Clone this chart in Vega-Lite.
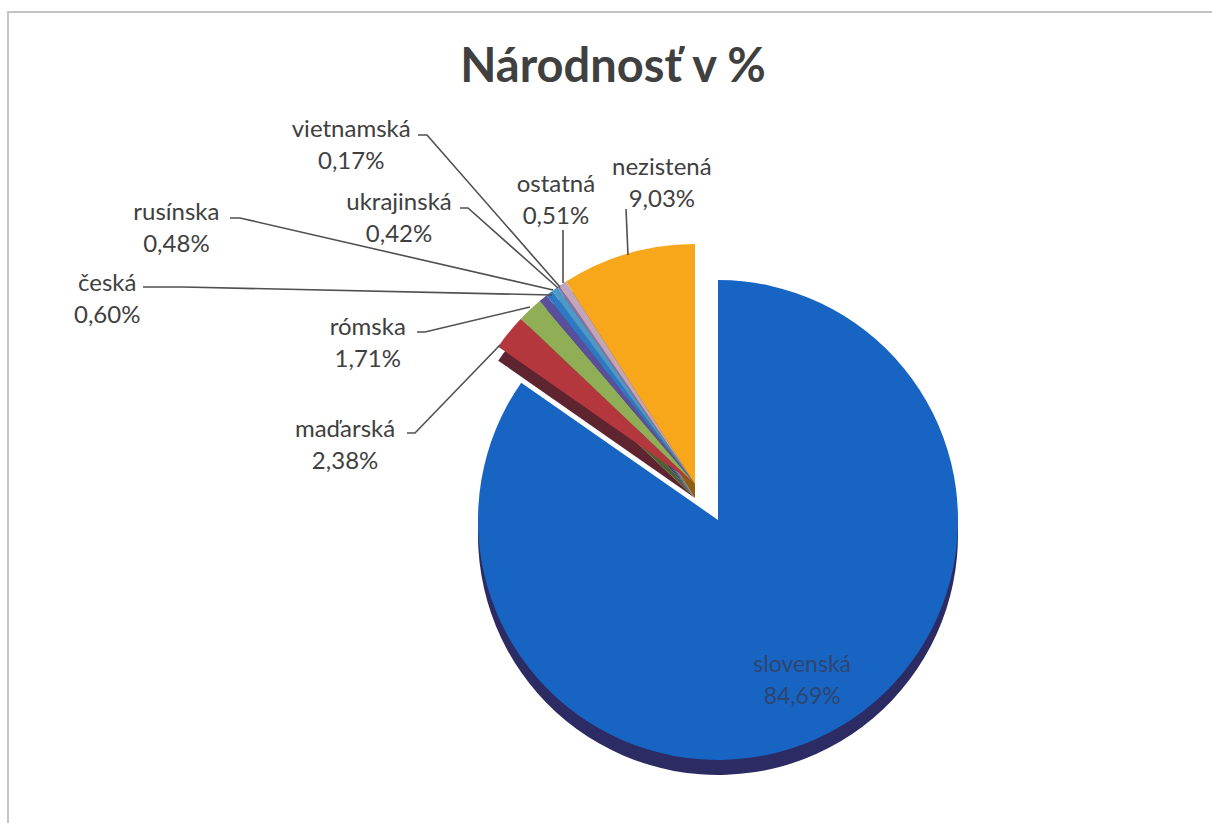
{
  "$schema": "https://vega.github.io/schema/vega-lite/v6.json",
  "autosize": {"type": "none"},
  "padding": {"left": 8, "top": 12, "right": 0, "bottom": 0},
  "width": 1374,
  "height": 944,
  "background": "white",
  "view": {"stroke": "#c4c4c4", "strokeWidth": 2},
  "config": {
    "view": {"stroke": "#c4c4c4", "strokeWidth": 2},
    "locale": {"number": {"decimal": ",", "thousands": " ", "grouping": [3], "currency": ["", "%"]}},
    "text": {"font": "Lato", "fontSize": 24, "fill": "#404040"}
  },
  "title": {
    "text": "Národnosť v %",
    "font": "Lato",
    "fontSize": 47,
    "fontWeight": "bold",
    "color": "#404040",
    "anchor": "middle",
    "baseline": "alphabetic",
    "offset": 0,
    "dx": -82,
    "dy": 117
  },
  "data": {
    "values": [
      {"nat": "slovenská", "value": 84.69, "order": 1},
      {"nat": "maďarská", "value": 2.38, "order": 2},
      {"nat": "rómska", "value": 1.71, "order": 3},
      {"nat": "česká", "value": 0.60, "order": 4},
      {"nat": "rusínska", "value": 0.48, "order": 5},
      {"nat": "ukrajinská", "value": 0.42, "order": 6},
      {"nat": "vietnamská", "value": 0.17, "order": 7},
      {"nat": "ostatná", "value": 0.51, "order": 8},
      {"nat": "nezistená", "value": 9.03, "order": 9}
    ]
  },
  "layer": [
    {
      "mark": {"type": "arc", "radius": 240, "yOffset": 14, "strokeWidth": 0},
      "encoding": {
        "theta": {"field": "value", "type": "quantitative", "stack": true, "scale": {"domain": [0, 99.99]}},
        "order": {"field": "order", "type": "quantitative"},
        "fill": {
          "field": "nat", "type": "nominal", "legend": null,
          "scale": {
            "domain": ["slovenská", "maďarská", "rómska", "česká", "rusínska", "ukrajinská", "vietnamská", "ostatná", "nezistená"],
            "range": ["#2D2B63", "#5E2430", "#4E6130", "#352C5A", "#1C3F6B", "#254F6A", "#4A3B5E", "#6B5A66", "#8F5E10"]
          }
        },
        "fillOpacity": {"condition": {"test": "datum.nat === 'slovenská'", "value": 0}, "value": 1}
      }
    },
    {
      "transform": [{"filter": "datum.nat === 'slovenská'"}],
      "mark": {"type": "arc", "radius": 240, "xOffset": 23, "yOffset": 51, "fill": "#2D2B63", "strokeWidth": 0},
      "encoding": {
        "theta": {"field": "value", "type": "quantitative", "stack": true, "scale": {"domain": [0, 99.99]}}
      }
    },
    {
      "mark": {"type": "arc", "radius": 240, "strokeWidth": 0},
      "encoding": {
        "theta": {"field": "value", "type": "quantitative", "stack": true, "scale": {"domain": [0, 99.99]}},
        "order": {"field": "order", "type": "quantitative"},
        "color": {
          "field": "nat", "type": "nominal", "legend": null,
          "scale": {
            "domain": ["slovenská", "maďarská", "rómska", "česká", "rusínska", "ukrajinská", "vietnamská", "ostatná", "nezistená"],
            "range": ["#1764C2", "#B4373D", "#8FAE56", "#5B4E9B", "#2F78C4", "#4A9AC8", "#8A6FA8", "#C3A5B9", "#F8A71B"]
          }
        },
        "fillOpacity": {"condition": {"test": "datum.nat === 'slovenská'", "value": 0}, "value": 1}
      }
    },
    {
      "transform": [{"filter": "datum.nat === 'slovenská'"}],
      "mark": {"type": "arc", "radius": 240, "xOffset": 23, "yOffset": 36, "fill": "#1764C2", "strokeWidth": 0},
      "encoding": {
        "theta": {"field": "value", "type": "quantitative", "stack": true, "scale": {"domain": [0, 99.99]}}
      }
    },
    {
      "transform": [{"filter": "datum.nat !== 'slovenská'"}],
      "mark": {"type": "point", "filled": false, "size": 4, "opacity": 1, "stroke": "#505050", "strokeWidth": 1.6},
      "encoding": {
        "shape": {
          "field": "nat", "type": "nominal", "legend": null,
          "scale": {
            "domain": ["maďarská", "rómska", "česká", "rusínska", "ukrajinská", "vietnamská", "ostatná", "nezistená"],
            "range": [
              "M-288,-51L-280,-51L-195,-139",
              "M-278,-152L-270,-152L-165,-177",
              "M-552,-197L-512,-197L-143,-189",
              "M-465,-266L-455,-266L-142,-194",
              "M-235,-276L-227,-276L-137,-196",
              "M-277,-349L-268,-349L-135,-197",
              "M-132,-254L-132,-201",
              "M-69,-275L-67,-229"
            ]
          }
        }
      }
    },
    {
      "transform": [{"filter": "datum.nat === 'slovenská'"}],
      "mark": {"type": "text", "radius": 182, "xOffset": 23, "yOffset": 36, "dy": -16, "fill": "#2F4570", "fontSize": 23},
      "encoding": {
        "theta": {"field": "value", "type": "quantitative", "stack": true, "scale": {"domain": [0, 99.99]}},
        "text": {"field": "nat"}
      }
    },
    {
      "transform": [{"filter": "datum.nat === 'slovenská'"}],
      "mark": {"type": "text", "radius": 182, "xOffset": 23, "yOffset": 36, "dy": 16, "fill": "#2F4570", "fontSize": 23},
      "encoding": {
        "theta": {"field": "value", "type": "quantitative", "stack": true, "scale": {"domain": [0, 99.99]}},
        "text": {"field": "value", "format": "$.2f"}
      }
    },
    {
      "transform": [{"filter": "datum.nat !== 'slovenská'"}],
      "mark": {"type": "text", "dy": -16},
      "encoding": {
        "theta": {"field": "order", "type": "quantitative", "scale": {"domain": [2, 3, 4, 5, 6, 7, 8, 9], "range": [4.8206, 5.1173, 5.0161, 5.1697, 5.4419, 5.4890, 5.8259, 6.1732], "zero": false, "nice": false}},
        "radius": {"field": "order", "type": "quantitative", "scale": {"domain": [2, 3, 4, 5, 6, 7, 8, 9], "range": [352, 356, 616, 578, 397, 482, 315, 302], "zero": false, "nice": false}},
        "text": {"field": "nat"}
      }
    },
    {
      "transform": [{"filter": "datum.nat !== 'slovenská'"}],
      "mark": {"type": "text", "dy": 16},
      "encoding": {
        "theta": {"field": "order", "type": "quantitative", "scale": {"domain": [2, 3, 4, 5, 6, 7, 8, 9], "range": [4.8206, 5.1173, 5.0161, 5.1697, 5.4419, 5.4890, 5.8259, 6.1732], "zero": false, "nice": false}},
        "radius": {"field": "order", "type": "quantitative", "scale": {"domain": [2, 3, 4, 5, 6, 7, 8, 9], "range": [352, 356, 616, 578, 397, 482, 315, 302], "zero": false, "nice": false}},
        "text": {"field": "value", "format": "$.2f"}
      }
    }
  ],
  "resolve": {"scale": {"theta": "independent", "radius": "independent"}}
}
